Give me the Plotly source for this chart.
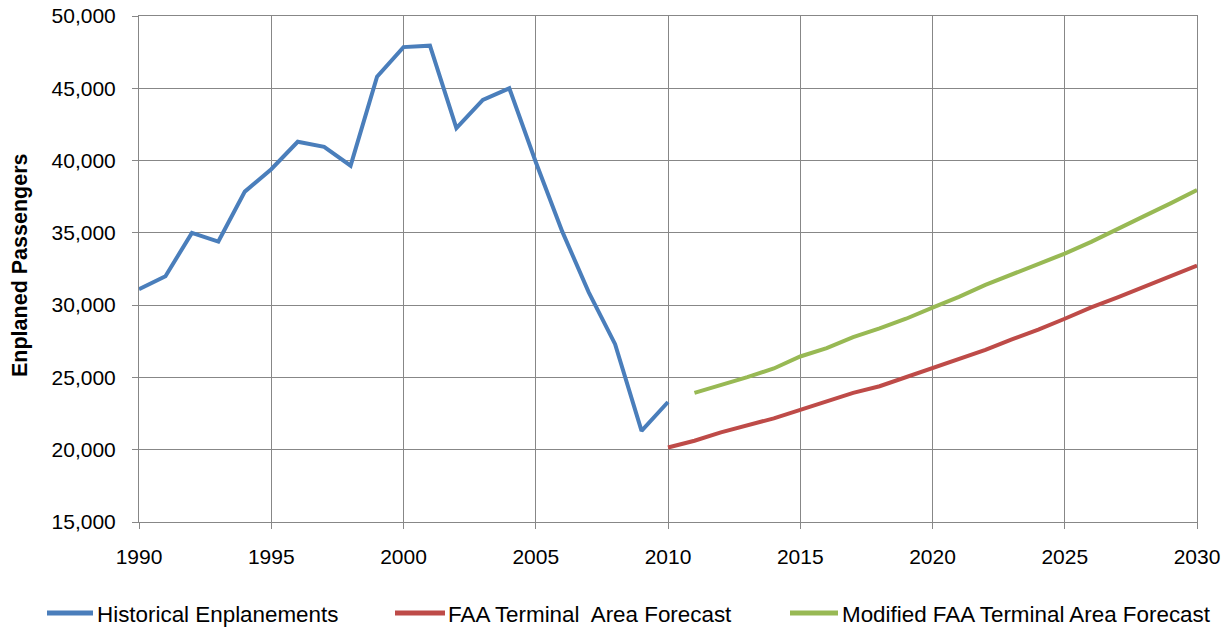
import plotly.graph_objects as go

hist_years = list(range(1990, 2011))
hist_vals = [31100, 32000, 35000, 34400, 37850, 39400, 41300, 40950, 39650, 45800,
             47850, 47950, 42250, 44200, 45000, 39900, 35100, 30900, 27300, 21300, 23300]

faa_years = list(range(2010, 2031))
faa_vals = [20150, 20620, 21200, 21660, 22170, 22750, 23330, 23930, 24390, 25020,
            25710, 26330, 26910, 27630, 28300, 29060, 29850, 30540, 31260, 32000, 32740]

mod_years = list(range(2011, 2031))
mod_vals = [23930, 24440, 25020, 25620, 26450, 27030, 27790, 28390, 29060, 29830,
            30570, 31400, 32120, 32880, 33570, 34380, 35300, 36160, 37040, 37970]

series_names = ["Historical Enplanements", "FAA Terminal\u00a0 Area Forecast",
                "Modified FAA Terminal Area Forecast"]
series_colors = ["#4A7EBB", "#BE4B48", "#98B954"]

FONT = "Liberation Sans, Arial, sans-serif"
GRID = "#878787"

W, H = 1230, 629
ML, MR, MT, MB = 139, 33, 16, 107
PW, PH = W - ML - MR, H - MT - MB


def px_x(p):
    return (p - ML) / PW


def px_y(p):
    return (H - MB - p) / PH


fig = go.Figure()
for xs, ys, nm, col in zip([hist_years, faa_years, mod_years],
                           [hist_vals, faa_vals, mod_vals],
                           series_names, series_colors):
    fig.add_trace(go.Scatter(x=xs, y=ys, mode="lines", name=nm, showlegend=False,
                             line=dict(color=col, width=4)))

# manual legend (line keys + labels) below the plot
legend_line_px = [(47, 93), (395, 445), (790, 838)]
legend_text_px = [95, 446, 840]
legend_y_px = 613
shapes = []
annotations = []
for (x0, x1), tx, nm, col in zip(legend_line_px, legend_text_px, series_names, series_colors):
    shapes.append(dict(type="line", xref="paper", yref="paper",
                       x0=px_x(x0), x1=px_x(x1), y0=px_y(legend_y_px), y1=px_y(legend_y_px),
                       line=dict(color=col, width=5)))
    annotations.append(dict(text=nm, xref="paper", yref="paper", x=px_x(tx), y=px_y(legend_y_px + 1),
                            xanchor="left", yanchor="middle", showarrow=False,
                            font=dict(size=22.4, family=FONT, color="black")))

annotations.append(dict(text="<b>Enplaned Passengers</b>", textangle=-90,
                        xref="paper", yref="paper", x=px_x(20), y=px_y(266),
                        xanchor="center", yanchor="middle", showarrow=False,
                        font=dict(size=21.5, family=FONT, color="black")))

fig.update_layout(
    width=W, height=H,
    margin=dict(l=ML, r=MR, t=MT, b=MB),
    paper_bgcolor="white", plot_bgcolor="white",
    font=dict(family=FONT, size=21, color="black"),
    showlegend=False,
    xaxis=dict(range=[1990, 2030], tickmode="linear", tick0=1990, dtick=5,
               showgrid=True, gridcolor=GRID, gridwidth=1,
               showline=True, linecolor=GRID, linewidth=1, mirror=True,
               ticks="outside", ticklen=6, tickcolor=GRID,
               ticklabelstandoff=10, zeroline=False, automargin=False),
    yaxis=dict(range=[15000, 50000], tickmode="linear", tick0=15000, dtick=5000,
               tickformat=",d",
               showgrid=True, gridcolor=GRID, gridwidth=1,
               showline=True, linecolor=GRID, linewidth=1, mirror=True,
               ticks="outside", ticklen=6, tickcolor=GRID,
               ticklabelstandoff=12, zeroline=False, automargin=False),
    shapes=shapes,
    annotations=annotations,
)

fig.write_html("out.html")
